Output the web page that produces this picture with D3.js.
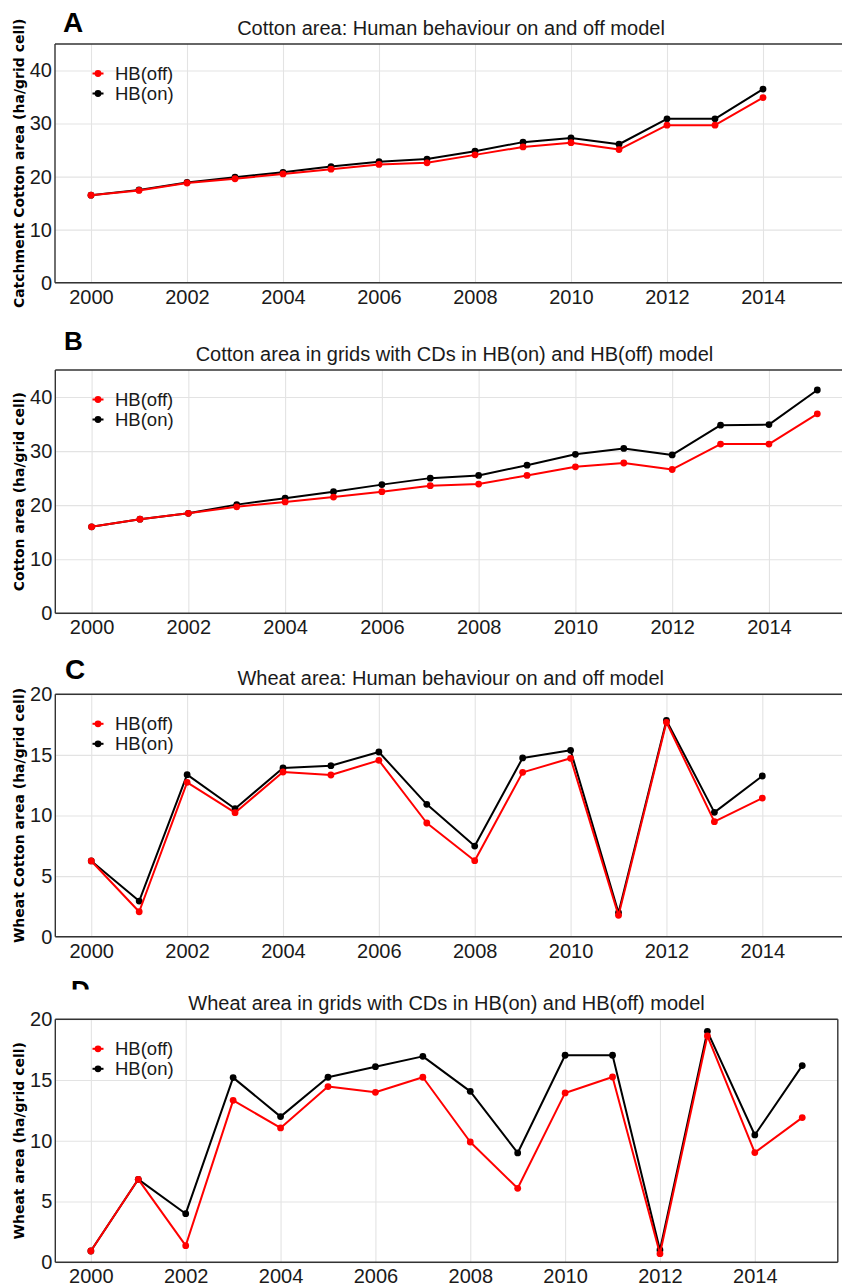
<!DOCTYPE html>
<html>
<head>
<meta charset="utf-8">
<script src="https://cdn.jsdelivr.net/npm/d3@7"></script>
<style>
  html, body { margin: 0; padding: 0; background: #fff; }
  svg { display: block; font-family: "Liberation Sans", Arial, sans-serif; }
</style>
</head>
<body>
<svg id="chart" width="842" height="1285"></svg>
<script>
// ---- data (ha / grid cell) ----
const yearsA = [2000,2001,2002,2003,2004,2005,2006,2007,2008,2009,2010,2011,2012,2013,2014];
const cottonCatchOff = [16.5,17.4,18.8,19.6,20.5,21.4,22.3,22.6,24.1,25.6,26.4,25.1,29.7,29.7,34.9];
const cottonCatchOn  = [16.5,17.5,18.9,19.9,20.8,21.9,22.8,23.3,24.8,26.5,27.3,26.1,30.9,30.9,36.5];

const yearsB = [2000,2001,2002,2003,2004,2005,2006,2007,2008,2009,2010,2011,2012,2013,2014,2015];
const cottonCDOff = [16.0,17.4,18.5,19.7,20.6,21.5,22.5,23.6,23.9,25.5,27.1,27.8,26.6,31.3,31.3,36.9];
const cottonCDOn  = [16.0,17.4,18.5,20.1,21.3,22.5,23.8,25.0,25.5,27.4,29.4,30.5,29.3,34.8,34.9,41.3];

const yearsC = [2000,2001,2002,2003,2004,2005,2006,2007,2008,2009,2010,2011,2012,2013,2014];
const wheatCatchOff = [6.25,2.06,12.74,10.23,13.59,13.34,14.55,9.38,6.27,13.56,14.72,1.76,17.69,9.49,11.44];
const wheatCatchOn  = [6.25,2.94,13.37,10.56,13.92,14.11,15.24,10.92,7.48,14.75,15.38,1.98,17.85,10.26,13.26];

const yearsD = [2000,2001,2002,2003,2004,2005,2006,2007,2008,2009,2010,2011,2012,2013,2014,2015];
const wheatCDOff = [0.93,6.83,1.37,13.33,11.06,14.46,13.99,15.23,9.90,6.09,13.94,15.25,0.71,18.63,9.03,11.91];
const wheatCDOn  = [0.93,6.83,4.00,15.20,11.99,15.23,16.10,16.95,14.07,9.00,17.04,17.04,1.02,19.01,10.48,16.19];

const xTicks = [2000,2002,2004,2006,2008,2010,2012,2014];
const cottonTicks = [0,10,20,30,40];
const wheatTicks = [0,5,10,15,20];
const seriesNames = ["HB(off)", "HB(on)"];
const seriesColors = ["#ff0000", "#000000"];

// ---- panel layout ----
const panels = [
  { letter: "A", title: "Cotton area: Human behaviour on and off model",
    ylab: "Catchment Cotton area (ha/grid cell)",
    years: yearsA, off: cottonCatchOff, on: cottonCatchOn, ymax: 45, yticks: cottonTicks,
    left: 55, right: 847, top: 44, bottom: 282.7, letterX: 63, letterY: 31.5, letterSize: 28 },
  { letter: "B", title: "Cotton area in grids with CDs in HB(on) and HB(off) model",
    ylab: "Cotton area (ha/grid cell)",
    years: yearsB, off: cottonCDOff, on: cottonCDOn, ymax: 45, yticks: cottonTicks,
    left: 55.3, right: 853.6, top: 370, bottom: 613.3, letterX: 64, letterY: 350, letterSize: 26 },
  { letter: "C", title: "Wheat area: Human behaviour on and off model",
    ylab: "Wheat Cotton area (ha/grid cell)",
    years: yearsC, off: wheatCatchOff, on: wheatCatchOn, ymax: 20, yticks: wheatTicks,
    left: 55.3, right: 846.2, top: 694.3, bottom: 936.7, letterX: 65, letterY: 678.5, letterSize: 28 },
  { letter: "D", title: "Wheat area in grids with CDs in HB(on) and HB(off) model",
    ylab: "Wheat area (ha/grid cell)",
    years: yearsD, off: wheatCDOff, on: wheatCDOn, ymax: 20, yticks: wheatTicks,
    left: 55.3, right: 837.8, top: 1019.3, bottom: 1262.3, letterX: 71, letterY: 998.5, letterSize: 26,
    letterClip: 989.5, boxed: true }
];

const svg = d3.select("#chart");
svg.append("rect").attr("width", 842).attr("height", 1285).attr("fill", "#fff");

// clip region for the partially hidden panel letter
const defs = svg.append("defs");

panels.forEach((p, i) => {
  const x = d3.scaleLinear().domain([1999.25, 2015.75]).range([p.left, p.right]);
  const y = d3.scaleLinear().domain([0, p.ymax]).range([p.bottom, p.top]);
  const g = svg.append("g").attr("class", "panel");

  // grid lines
  const grid = g.append("g").attr("class", "grid");
  grid.append("g")
    .attr("transform", `translate(0,${p.bottom})`)
    .call(d3.axisBottom(x).tickValues(xTicks).tickSize(-(p.bottom - p.top)).tickFormat(""))
    .call(a => a.select(".domain").remove())
    .call(a => a.selectAll("line").attr("stroke", "#e3e3e3").attr("stroke-width", 1.1));
  grid.append("g")
    .attr("transform", `translate(${p.left},0)`)
    .call(d3.axisLeft(y).tickValues(p.yticks).tickSize(-(p.right - p.left)).tickFormat(""))
    .call(a => a.select(".domain").remove())
    .call(a => a.selectAll("line").attr("stroke", "#e3e3e3").attr("stroke-width", 1.1));

  // series: black drawn first, red on top
  const line = d3.line().x(d => x(d[0])).y(d => y(d[1]));
  [[p.on, seriesColors[1]], [p.off, seriesColors[0]]].forEach(([vals, col]) => {
    const pts = p.years.map((yr, k) => [yr, vals[k]]);
    g.append("path").datum(pts)
      .attr("d", line).attr("fill", "none")
      .attr("stroke", col).attr("stroke-width", 2).attr("stroke-linejoin", "round");
    g.append("g").selectAll("circle").data(pts).join("circle")
      .attr("cx", d => x(d[0])).attr("cy", d => y(d[1])).attr("r", 3.4).attr("fill", col);
  });

  // frame
  const frame = g.append("g").attr("fill", "none").attr("stroke", "#333").attr("stroke-width", 1.4);
  frame.append("line").attr("x1", p.left).attr("x2", p.right).attr("y1", p.top).attr("y2", p.top);
  frame.append("line").attr("x1", p.left).attr("x2", p.left).attr("y1", p.top).attr("y2", p.bottom);
  frame.append("line").attr("x1", p.left).attr("x2", p.right).attr("y1", p.bottom).attr("y2", p.bottom);
  if (p.boxed) frame.append("line").attr("x1", p.right).attr("x2", p.right).attr("y1", p.top).attr("y2", p.bottom);

  // axes labels
  g.append("g")
    .attr("transform", `translate(0,${p.bottom})`)
    .call(d3.axisBottom(x).tickValues(xTicks).tickSize(0).tickPadding(7).tickFormat(d3.format("d")))
    .call(a => a.select(".domain").remove())
    .call(a => a.selectAll("text").attr("font-size", 20).attr("fill", "#1a1a1a")
      .attr("font-family", "Liberation Sans, Arial, sans-serif"));
  g.append("g")
    .attr("transform", `translate(${p.left},0)`)
    .call(d3.axisLeft(y).tickValues(p.yticks).tickSize(0).tickPadding(3))
    .call(a => a.select(".domain").remove())
    .call(a => a.selectAll("text").attr("font-size", 20).attr("fill", "#1a1a1a")
      .attr("font-family", "Liberation Sans, Arial, sans-serif"));

  // y-axis title
  g.append("text")
    .attr("transform", `translate(23.5,${(p.top + p.bottom) / 2}) rotate(-90)`)
    .attr("text-anchor", "middle")
    .attr("font-family", "DejaVu Sans, Verdana, sans-serif")
    .attr("font-size", 14).attr("font-weight", "bold").attr("fill", "#000")
    .text(p.ylab);

  // panel title
  g.append("text")
    .attr("x", (p.left + p.right) / 2).attr("y", p.top - 9.5)
    .attr("text-anchor", "middle").attr("font-size", 20).attr("fill", "#1a1a1a")
    .text(p.title);

  // panel letter
  const letter = g.append("text")
    .attr("x", p.letterX).attr("y", p.letterY)
    .attr("font-size", p.letterSize).attr("font-weight", "bold").attr("fill", "#000")
    .text(p.letter);
  if (p.letterClip) {
    const id = "clip" + i;
    defs.append("clipPath").attr("id", id)
      .append("rect").attr("x", 0).attr("y", 0).attr("width", 842).attr("height", p.letterClip);
    letter.attr("clip-path", `url(#${id})`);
  }

  // legend
  const leg = g.append("g").attr("transform", `translate(98,${p.top + 29.5})`);
  seriesNames.forEach((name, k) => {
    const row = leg.append("g").attr("transform", `translate(0,${k * 20})`);
    row.append("line").attr("x1", -5.5).attr("x2", 5.5).attr("stroke", seriesColors[k]).attr("stroke-width", 2);
    row.append("circle").attr("r", 3.4).attr("fill", seriesColors[k]);
    row.append("text").attr("x", 17).attr("y", 6.5).attr("font-size", 18.5).attr("fill", "#1a1a1a").text(name);
  });
});
</script>
</body>
</html>
